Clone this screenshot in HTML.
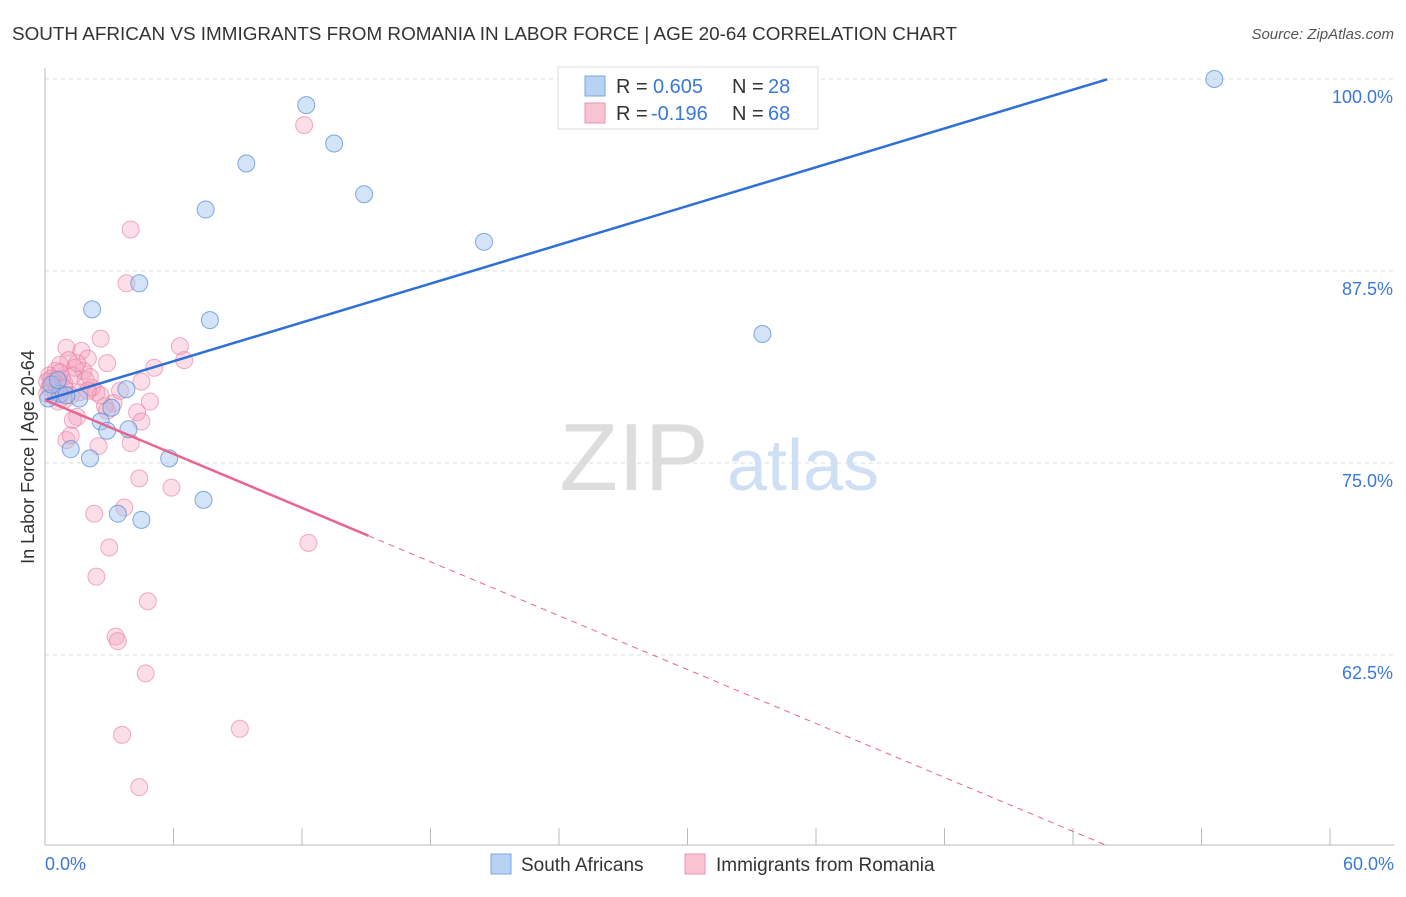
<!DOCTYPE html>
<html><head><meta charset="utf-8"><style>
body{margin:0;background:#fff;font-family:"Liberation Sans",sans-serif;}
svg text{font-family:"Liberation Sans",sans-serif;}
</style></head><body>
<svg width="1406" height="892" xmlns="http://www.w3.org/2000/svg">
<text x="12" y="40" font-size="18" fill="#333" textLength="945" lengthAdjust="spacingAndGlyphs">SOUTH AFRICAN VS IMMIGRANTS FROM ROMANIA IN LABOR FORCE | AGE 20-64 CORRELATION CHART</text>
<text x="1394" y="39" font-size="15" fill="#555" text-anchor="end" font-style="italic">Source: ZipAtlas.com</text>
<g id="grid"></g>
<g>
<text x="634" y="490" font-size="96" fill="#ddd" text-anchor="middle" font-family="Liberation Serif,serif">ZIP</text>
<text x="803" y="490" font-size="72" fill="#cfe0f5" text-anchor="middle">atlas</text>
</g>
<text transform="translate(34,457) rotate(-90)" font-size="18" fill="#333" text-anchor="middle">In Labor Force | Age 20-64</text>
<g id="pts"></g>
<g id="lines"></g>
<g>
<rect x="558" y="67" width="260" height="62" fill="#fff" stroke="#ddd"/>
<rect x="585" y="76" width="20" height="20" fill="#b8d2f3" stroke="#7aa6e2"/>
<rect x="585" y="103" width="20" height="20" fill="#f8c3d3" stroke="#eb94b0"/>
<text x="616" y="93" font-size="20" fill="#333">R =</text>
<text x="653" y="93" font-size="20" fill="#3b78d8">0.605</text>
<text x="732" y="93" font-size="20" fill="#333">N =</text>
<text x="768" y="93" font-size="20" fill="#3b78d8">28</text>
<text x="616" y="120" font-size="20" fill="#333">R =</text>
<text x="651" y="120" font-size="20" fill="#3b78d8">-0.196</text>
<text x="732" y="120" font-size="20" fill="#333">N =</text>
<text x="768" y="120" font-size="20" fill="#3b78d8">68</text>
</g>
<g>
<rect x="491" y="854" width="20" height="20" fill="#b8d2f3" stroke="#7aa6e2"/>
<text x="521" y="871" font-size="19" fill="#333">South Africans</text>
<rect x="685" y="854" width="20" height="20" fill="#f8c3d3" stroke="#eb94b0"/>
<text x="716" y="871" font-size="19" fill="#333">Immigrants from Romania</text>
</g>
</svg>
<script>
const yTicks=[100,87.5,75,62.5];
const yTickLabels=["100.0%","87.5%","75.0%","62.5%"];
const xTicks=[0,6,12,18,24,30,36,42,48,54,60];
const xEndLabels=["0.0%","60.0%"];
const blueX=[54.6,12.2,9.4,13.5,7.5,14.9,20.5,4.4,2.2,7.7,33.5,3.8,0.7,1.6,3.1,2.6,2.9,3.9,1.2,2.1,5.8,7.4,3.4,4.5,0.15,0.3,0.6,1.0];
const blueY=[100,98.3,94.5,95.8,91.5,92.5,89.4,86.7,85.0,84.3,83.4,79.8,79.5,79.2,78.6,77.7,77.1,77.2,75.9,75.3,75.3,72.6,71.7,71.3,79.2,80.1,80.4,79.4];
const pinkX=[12.1,4.0,3.8,2.6,6.3,6.5,5.1,2.9,1.0,1.7,2.0,1.1,0.7,1.4,1.8,0.5,0.2,0.8,0.4,0.6,0.9,1.3,4.5,2.2,2.4,1.9,0.9,4.9,3.2,2.8,4.3,1.5,4.5,1.3,1.0,1.2,4.0,2.5,4.4,5.9,3.7,2.3,12.3,3.0,2.4,4.8,3.3,3.4,4.7,9.1,3.6,4.4,0.1,0.2,0.3,0.5,0.7,0.9,0.1,1.6,2.1,2.6,1.5,3.5,2.9,2.0,1.2,0.6];
const pinkY=[97.0,90.2,86.7,83.1,82.6,81.7,81.2,81.5,82.5,82.3,81.8,81.7,81.4,81.2,81.0,81.0,80.7,80.5,80.3,80.1,80.2,80.7,80.3,79.9,79.6,80.4,79.1,79.0,78.9,78.7,78.3,78.0,77.7,77.8,76.5,76.8,76.3,76.1,74.0,73.4,72.1,71.7,69.8,69.5,67.6,66.0,63.7,63.4,61.3,57.7,57.3,53.9,80.3,79.9,80.5,79.6,80.9,79.9,79.5,79.6,80.6,79.4,81.5,79.7,78.4,79.7,79.4,79.0];
const blueFit=[79.1,0.421];
const pinkFit=[79.1,-0.585];
const pinkSolidEnd=15.1, pinkDashEnd=49.6, blueEnd=49.6;
const NS="http://www.w3.org/2000/svg";
const xs=v=>45+v/60*1285;
const ys=v=>79+(100-v)*192/12.5;
function mk(tag,attrs,parent){const e=document.createElementNS(NS,tag);for(const k in attrs)e.setAttribute(k,attrs[k]);parent.appendChild(e);return e;}
const grid=document.getElementById('grid');
yTicks.forEach((t,i)=>{
 const l=mk('line',{x1:45,x2:1394,y1:ys(t),y2:ys(t),stroke:'#ddd','stroke-dasharray':'4,4'},grid);
 
 
 const tx=mk('text',{x:1393,y:ys(t)+24,'font-size':18,fill:'#3b78d8','text-anchor':'end'},grid);
 tx.textContent=yTickLabels[i];
 
 
});
const ax=mk('line',{x1:45,x2:1394,y1:845,y2:845,stroke:'#bbb'},grid);


const ay=mk('line',{x1:45,x2:45,y1:68,y2:845,stroke:'#bbb'},grid);


xTicks.forEach(t=>{
 const l=mk('line',{x1:xs(t),x2:xs(t),y1:828,y2:845,stroke:'#bbb'},grid);
 
 
});
[[0,'start',45],[60,'end',1394]].forEach((d,i)=>{
 const tx=mk('text',{x:d[2],y:870,'font-size':18,fill:'#3b78d8','text-anchor':d[1]},grid);
 tx.textContent=xEndLabels[i];
 
 
});
const pts=document.getElementById('pts');
pinkX.forEach((x,i)=>{
 const c=mk('circle',{cx:xs(x),cy:ys(pinkY[i]),r:8.5,fill:'rgba(244,160,188,0.35)',stroke:'rgba(232,120,155,0.6)','stroke-width':1},pts);
 
 
});
blueX.forEach((x,i)=>{
 const c=mk('circle',{cx:xs(x),cy:ys(blueY[i]),r:8.5,fill:'rgba(160,196,240,0.45)',stroke:'rgba(90,140,215,0.75)','stroke-width':1},pts);
 
 
});
const lines=document.getElementById('lines');
const f=(fit,x)=>fit[0]+fit[1]*x;
const bl=mk('line',{x1:xs(0),y1:ys(f(blueFit,0)),x2:xs(blueEnd),y2:ys(f(blueFit,blueEnd)),stroke:'#2f6fd6','stroke-width':2.5},lines);


const pl=mk('line',{x1:xs(0),y1:ys(f(pinkFit,0)),x2:xs(pinkSolidEnd),y2:ys(f(pinkFit,pinkSolidEnd)),stroke:'#e8658f','stroke-width':2.5},lines);


const pd=mk('line',{x1:xs(pinkSolidEnd),y1:ys(f(pinkFit,pinkSolidEnd)),x2:xs(pinkDashEnd),y2:ys(f(pinkFit,pinkDashEnd)),stroke:'#e8658f','stroke-width':1,'stroke-dasharray':'6,5'},lines);


</script>
</body></html>
